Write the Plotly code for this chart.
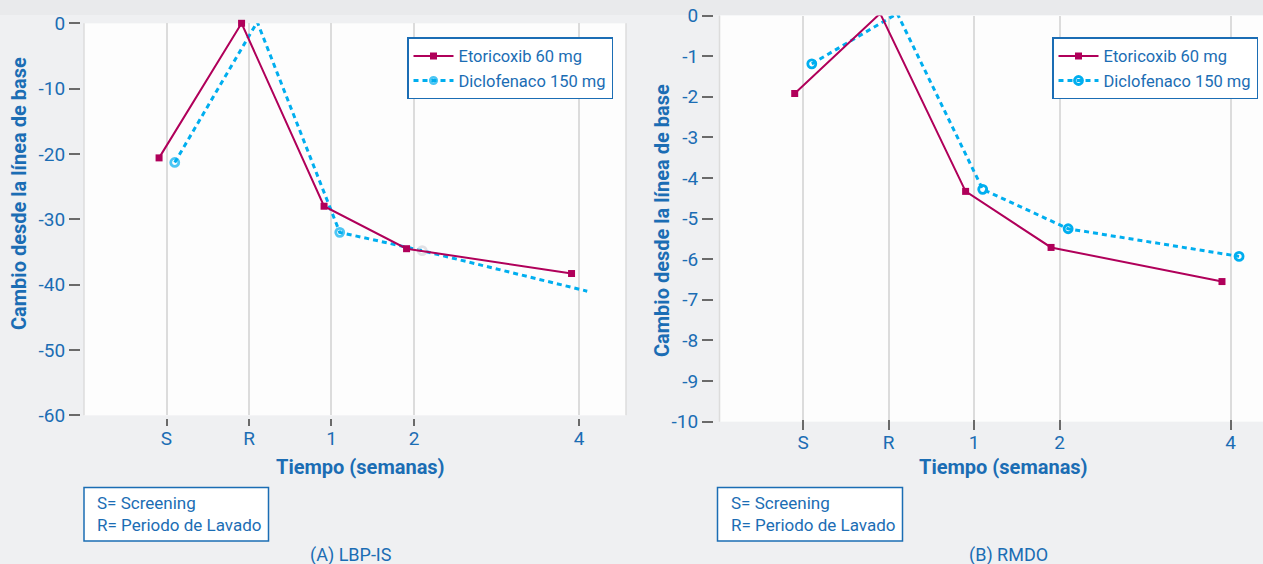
import plotly.graph_objects as go

# ---------------- data ----------------
x_pos = [-1, 0, 1, 2, 4]
x_tick_labels = ["S", "R", "1", "2", "4"]

series_names = ["Etoricoxib 60 mg", "Diclofenaco 150 mg"]

# Panel A: LBP-IS
a_etoricoxib = [-20.6, 0.0, -28.0, -34.5, -38.3]
a_diclofenaco = [-21.3, 0.2, -32.0, -34.8, -41.0]
a_yticks = [0, -10, -20, -30, -40, -50, -60]
a_ytick_labels = ["0", "-10", "-20", "-30", "-40", "-50", "-60"]

# Panel B: RMDO
b_etoricoxib = [-1.92, 0.05, -4.33, -5.71, -6.55]
b_diclofenaco = [-1.19, 0.05, -4.28, -5.25, -5.93]
b_yticks = [0, -1, -2, -3, -4, -5, -6, -7, -8, -9, -10]
b_ytick_labels = ["0", "-1", "-2", "-3", "-4", "-5", "-6", "-7", "-8", "-9", "-10"]

y_title = "Cambio desde la línea de base"
x_title = "Tiempo (semanas)"
note_text = "S= Screening<br>R= Periodo de Lavado"
captions = ["(A) LBP-IS", "(B) RMDO"]

# ---------------- style ----------------
W, H = 1263, 564
def fx(px):
    return px / W
def fy(py):
    return 1 - py / H

C_ETO = "#b0005a"
C_DIC = "#00aeef"
C_TXT = "#1b6db4"
C_GRID = "#dcdcdc"
C_TICK = "#6a6a6a"
FONT = "Roboto"

fig = go.Figure()

def add_panel(eto, dic, xa, ya, legend, eto_off, dic_off, dic_sizes=None, dic_colors=None):
    fig.add_trace(go.Scatter(
        x=[v + dic_off for v in x_pos], y=dic, name=series_names[1],
        mode="lines+markers", xaxis=xa, yaxis=ya, legend=legend, legendrank=2,
        line=dict(color=C_DIC, width=3, dash="5px,4px"),
        marker=dict(symbol="circle-open", size=dic_sizes if dic_sizes else 8,
                    color=dic_colors if dic_colors else C_DIC, line=dict(width=2.8)),
        cliponaxis=False,
    ))
    fig.add_trace(go.Scatter(
        x=[v + eto_off for v in x_pos], y=eto, name=series_names[0],
        mode="lines+markers", xaxis=xa, yaxis=ya, legend=legend, legendrank=1,
        line=dict(color=C_ETO, width=2),
        marker=dict(symbol="square", size=7, color=C_ETO),
        cliponaxis=False,
    ))

add_panel(a_etoricoxib, a_diclofenaco, "x", "y", "legend", -0.09, 0.1,
          dic_sizes=[8, 8, 8, 8, 0],
          dic_colors=[C_DIC, C_DIC, C_DIC, "#d4d4dc", C_DIC])
add_panel(b_etoricoxib, b_diclofenaco, "x2", "y2", "legend2", -0.1, 0.1)

tickfont = dict(family=FONT, size=19, color=C_TXT)

def xaxis(domain, rng, pos, ticklen):
    return dict(domain=domain, range=rng, anchor="free", position=pos,
                tickmode="array", tickvals=x_pos, ticktext=x_tick_labels,
                showgrid=True, gridcolor=C_GRID, gridwidth=1.5,
                zeroline=False, showline=False, automargin=False,
                ticks="outside", ticklen=ticklen, tickwidth=1.5, tickcolor=C_TICK,
                ticklabelstandoff=-4,
                tickfont=tickfont, fixedrange=True)

def yaxis(domain, rng, pos, vals, labels):
    return dict(domain=domain, range=rng, anchor="free", position=pos,
                tickmode="array", tickvals=vals, ticktext=labels,
                showgrid=False, zeroline=False, showline=False, automargin=False,
                ticks="outside", ticklen=11, tickwidth=1.5, tickcolor=C_TICK,
                tickfont=tickfont, fixedrange=True)

legend_common = dict(xanchor="left", yanchor="top", bgcolor="white",
                     bordercolor=C_TXT, borderwidth=1.5, itemwidth=40,
                     font=dict(family=FONT, size=16.5, color=C_TXT),
                     tracegroupgap=0)

fig.update_layout(
    width=W, height=H, autosize=False,
    margin=dict(l=0, r=0, t=0, b=0, pad=0, autoexpand=False),
    paper_bgcolor="#eff0f2",
    plot_bgcolor="#fdfdfd",
    showlegend=True,
    xaxis=xaxis([fx(84), fx(626)], [-2.0, 4.57], fy(418), 7),
    yaxis=yaxis([fy(415.3), fy(23.3)], [-60, 0], fx(80), a_yticks, a_ytick_labels),
    xaxis2=xaxis([fx(719.5), 1.0], [-1.98, 4.38], fy(419), 10),
    yaxis2=yaxis([fy(421.7), fy(15.5)], [-10, 0], fx(713), b_yticks, b_ytick_labels),
    legend=dict(x=fx(407), y=fy(37.3), **legend_common),
    legend2=dict(x=fx(1052), y=fy(37.3), **legend_common),
)

shapes = [
    dict(type="rect", xref="paper", yref="paper", x0=0, x1=1, y0=fy(15), y1=1,
         fillcolor="#e9eaec", line=dict(width=0), layer="below"),
    dict(type="line", xref="x domain", yref="y domain", x0=0, x1=0, y0=0, y1=1,
         line=dict(color=C_GRID, width=1.5)),
    dict(type="line", xref="x domain", yref="y domain", x0=1, x1=1, y0=0, y1=1,
         line=dict(color=C_GRID, width=1.5)),
    dict(type="line", xref="x2 domain", yref="y2 domain", x0=0, x1=0, y0=0, y1=1,
         line=dict(color=C_GRID, width=1.5)),
    dict(type="rect", xref="paper", yref="paper", x0=fx(84), x1=fx(268.5),
         y0=fy(541), y1=fy(487.5), fillcolor="white", line=dict(color=C_TXT, width=1.5)),
    dict(type="rect", xref="paper", yref="paper", x0=fx(717.5), x1=fx(902.5),
         y0=fy(541), y1=fy(487.5), fillcolor="white", line=dict(color=C_TXT, width=1.5)),
]
fig.update_layout(shapes=shapes)

ann = []
bold = dict(family=FONT, size=20, color=C_TXT, weight="bold")
# y titles
ann.append(dict(text=y_title, x=fx(19), y=fy(194), xref="paper", yref="paper",
                textangle=-90, showarrow=False, font=bold, xanchor="center", yanchor="middle"))
ann.append(dict(text=y_title, x=fx(662), y=fy(221), xref="paper", yref="paper",
                textangle=-90, showarrow=False, font=bold, xanchor="center", yanchor="middle"))
# x titles
ann.append(dict(text=x_title, x=fx(360.5), y=fy(467), xref="paper", yref="paper",
                showarrow=False, font=bold, xanchor="center", yanchor="middle"))
ann.append(dict(text=x_title, x=fx(1003), y=fy(467), xref="paper", yref="paper",
                showarrow=False, font=bold, xanchor="center", yanchor="middle"))
# notes
note_font = dict(family=FONT, size=17, color=C_TXT)
ann.append(dict(text=note_text, x=fx(95), y=fy(514), xref="paper", yref="paper",
                showarrow=False, font=note_font, align="left", xanchor="left", yanchor="middle"))
ann.append(dict(text=note_text, x=fx(729), y=fy(514), xref="paper", yref="paper",
                showarrow=False, font=note_font, align="left", xanchor="left", yanchor="middle"))
# captions
cap_font = dict(family=FONT, size=18, color=C_TXT)
ann.append(dict(text=captions[0], x=fx(351), y=fy(555), xref="paper", yref="paper",
                showarrow=False, font=cap_font, xanchor="center", yanchor="middle"))
ann.append(dict(text=captions[1], x=fx(1008), y=fy(555), xref="paper", yref="paper",
                showarrow=False, font=cap_font, xanchor="center", yanchor="middle"))
fig.update_layout(annotations=ann)

fig.write_html(
    "out.html",
    config={"displayModeBar": False},
    post_script=(
        "document.documentElement.style.margin='0';"
        "document.body.style.margin='0';document.body.style.overflow='hidden';"
        "var g=document.getElementById('{plot_id}');"
        "g.style.position='fixed';g.style.left='0px';g.style.top='0px';"
    ),
)
